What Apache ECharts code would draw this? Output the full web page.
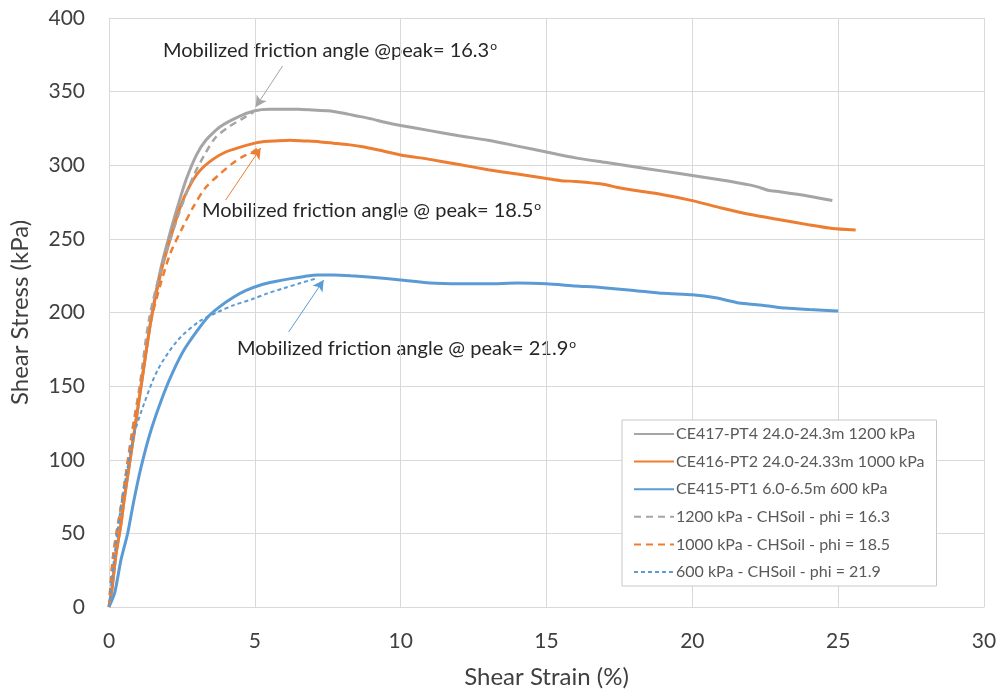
<!DOCTYPE html>
<html>
<head>
<meta charset="utf-8">
<script src="https://cdn.jsdelivr.net/npm/echarts@6/dist/echarts.min.js"></script>
<style>
html,body{margin:0;padding:0;background:#fff;}
#chart{width:1000px;height:695px;}
</style>
</head>
<body>
<div id="chart"></div>
<script>
// ---- Data ----
var seriesNames = [
  'CE417-PT4 24.0-24.3m 1200 kPa',
  'CE416-PT2 24.0-24.33m 1000 kPa',
  'CE415-PT1 6.0-6.5m 600 kPa',
  '1200 kPa - CHSoil - phi = 16.3',
  '1000 kPa - CHSoil - phi = 18.5',
  '600 kPa - CHSoil - phi = 21.9'
];

var ce417X = [0,0.1,0.24,0.4,0.52,0.7,0.86,1.1,1.44,1.8,2.12,2.4,2.64,3.0,3.32,3.8,4.45,5.0,5.5,6.0,6.5,7.0,7.5,8.0,8.5,9.0,9.5,10,11,12,13,14,15,16,17,18,19,20,21,22,22.3,22.6,23,24,24.8];
var ce417Y = [0,12,36,55,73,97,118,150,195,232,256,275,290,307,317,326,333,337,338,338,338,337.5,337,335.5,333.5,331.5,329,327,323.5,320,317,313,309,305,302,299,296,293,290,286.5,285,283,282,279,276];

var ce416X = [0,0.1,0.24,0.4,0.52,0.7,0.86,1.1,1.44,1.8,2.19,2.45,2.74,3.1,3.56,4.0,4.45,5.0,5.27,5.7,6.2,6.7,7.2,7.7,8.2,8.7,9.2,10,11,12,13,14,15,15.5,16,17,17.4,18,19,20,21,22,23,24,24.8,25.6];
var ce416Y = [0,12,36,55,73,97,118,150,195,229,256,272,285,296,304,309,312,315,316,316.5,317,316.5,316,315,314,312.5,310.5,307,304,300.5,297,294,291,289.5,289,287,285,283,280,276,271,266.5,263,259.5,257,256];

var ce415X = [0,0.2,0.41,0.64,0.85,1.1,1.44,1.88,2.2,2.57,3.0,3.39,3.8,4.28,4.7,5.2,5.7,6.23,6.7,7.15,7.7,8.29,9,10,11,12,13,14,15,16,16.85,18,19,20,20.8,21.6,22.4,23.2,24,25];
var ce415Y = [0,10,32,50,72,95,120,145,160,174.5,187,197,204,210.5,215,218.7,221,223,224.5,225.5,225.5,225,224,222,220,219.5,219.5,220,219.5,218,217,215,213,212,210,206.5,205,203,202,201];

var ch1200X = [0,0.15,0.45,0.78,1.05,1.37,1.78,2.36,2.88,3.3,3.66,4.1,4.52,4.95];
var ch1200Y = [0,36,73,118,150,195,229,265,292,308,319,326,331,336];

var ch1000X = [0,0.15,0.45,0.8,1.08,1.45,1.75,2.1,2.53,2.9,3.32,3.8,4.25,4.6,4.93,5.14];
var ch1000Y = [0,36,73,118,150,195,218,240,258,272,285,294,301.5,306,309,312];

var ch600X = [0,0.17,0.41,0.65,0.87,1.21,1.67,2.35,3.1,3.7,4.28,4.9,5.44,6.0,6.57,7.15];
var ch600Y = [0,32,68,96,118,138.5,161,181,194,200,205,209,213,216.5,220,223.4];

// annotation arrows: [fromX, fromY, toX, toY]
var arrow1200 = [5.95, 367.4, 5.03, 339.6];
var arrow1000 = [4.0, 276.4, 5.2, 311.7];
var arrow600  = [6.16, 186.8, 7.36, 222];

var annoText = [
  ['Mobilized friction angle @peak= 16.3', 'o'],
  ['Mobilized friction angle @ peak= 18.5', 'o'],
  ['Mobilized friction angle @ peak= 21.9', 'o']
];

var xTicks = [0,5,10,15,20,25,30];
var yTicks = [0,50,100,150,200,250,300,350,400];

// ---- helpers ----
function pairs(xs, ys){ return xs.map(function(x,i){ return [x, ys[i]]; }); }
function arrowLine(a, color){
  return {
    silent: true,
    symbol: ['none','arrow'],
    symbolSize: [9, 11],
    label: {show:false},
    lineStyle: {color: color, width: 1, type: 'solid'},
    emphasis: {disabled: true},
    animation: false,
    data: [[{coord:[a[0],a[1]]},{coord:[a[2],a[3]]}]]
  };
}

var GRAY = '#A5A5A5', ORANGE = '#ED7D31', BLUE = '#5B9BD5';
var FONT = 'Lato';

var chart = echarts.init(document.getElementById('chart'), null, {renderer:'canvas'});

function lineSeries(name, xs, ys, color, width, dash, z, smooth){
  return {
    name: name, type: 'line', data: pairs(xs, ys),
    symbol: 'none', showSymbol: false, smooth: smooth, z: z,
    lineStyle: {color: color, width: width, type: dash || 'solid'},
    itemStyle: {color: color},
    emphasis: {disabled: true},
    animation: false
  };
}

var s = [
  lineSeries(seriesNames[0], ce417X, ce417Y, GRAY, 3, null, 3, 0.2),
  lineSeries(seriesNames[1], ce416X, ce416Y, ORANGE, 3, null, 4, 0.2),
  lineSeries(seriesNames[2], ce415X, ce415Y, BLUE, 3, null, 4, 0.2),
  lineSeries(seriesNames[3], ch1200X, ch1200Y, GRAY, 2.5, [7,5], 5, 0.3),
  lineSeries(seriesNames[4], ch1000X, ch1000Y, ORANGE, 2.5, [7,5], 5, 0.3),
  lineSeries(seriesNames[5], ch600X, ch600Y, BLUE, 2, [4,3], 5, 0.3)
];
s[3].markLine = arrowLine(arrow1200, GRAY);
s[4].markLine = arrowLine(arrow1000, ORANGE);
s[5].markLine = arrowLine(arrow600, BLUE);

function annoGraphic(t, left, top){
  return {
    type: 'text', left: left, top: top, silent: true,
    style: {
      text: t[0] + '{sup|' + t[1] + '}',
      font: '20px ' + FONT,
      fill: '#262626',
      rich: { sup: { fontSize: 12, fontFamily: FONT, verticalAlign: 'top', padding:[0,0,10,1], fill:'#262626' } }
    }
  };
}

var option = {
  backgroundColor: '#fff',
  animation: false,
  textStyle: {fontFamily: FONT},
  grid: {left: 108, right: 16, top: 18, bottom: 88, containLabel: false},
  xAxis: {
    type: 'value', min: 0, max: 30, interval: 5,
    name: 'Shear Strain (%)', nameLocation: 'middle', nameGap: 58,
    nameTextStyle: {fontSize: 24, color: '#404040', fontFamily: FONT},
    axisLine: {show: true, lineStyle: {color: '#d9d9d9', width: 1}},
    axisTick: {show: false},
    axisLabel: {fontSize: 21, color: '#404040', margin: 24, fontFamily: FONT,
      formatter: function(v){ return xTicks.indexOf(v) >= 0 ? String(v) : ''; }},
    splitLine: {show: true, lineStyle: {color: '#d9d9d9', width: 1}}
  },
  yAxis: {
    type: 'value', min: 0, max: 400, interval: 50,
    name: 'Shear Stress (kPa)', nameLocation: 'middle', nameGap: 77, nameRotate: 90,
    nameTextStyle: {fontSize: 24, color: '#404040', fontFamily: FONT},
    axisLine: {show: true, lineStyle: {color: '#d9d9d9', width: 1}},
    axisTick: {show: false},
    axisLabel: {fontSize: 21, color: '#404040', margin: 24, fontFamily: FONT,
      formatter: function(v){ return yTicks.indexOf(v) >= 0 ? String(v) : ''; }},
    splitLine: {show: true, lineStyle: {color: '#d9d9d9', width: 1}}
  },
  legend: {
    show: true, orient: 'vertical', left: 622, top: 420,
    padding: [5, 12, 5, 11],
    itemWidth: 40, itemHeight: 14, itemGap: 9.6,
    backgroundColor: '#fff', borderColor: '#c8c8c8', borderWidth: 1,
    itemStyle: {opacity: 0},
    textStyle: {fontSize: 16, color: '#595959', lineHeight: 18, fontFamily: FONT, padding:[0,0,0,-3]},
    selectedMode: false,
    data: seriesNames.map(function(n){ return {name: n}; })
  },
  graphic: [
    annoGraphic(annoText[0], 163, 40),
    annoGraphic(annoText[1], 202, 200),
    annoGraphic(annoText[2], 237, 338)
  ],
  series: s
};
chart.setOption(option);
</script>
</body>
</html>
